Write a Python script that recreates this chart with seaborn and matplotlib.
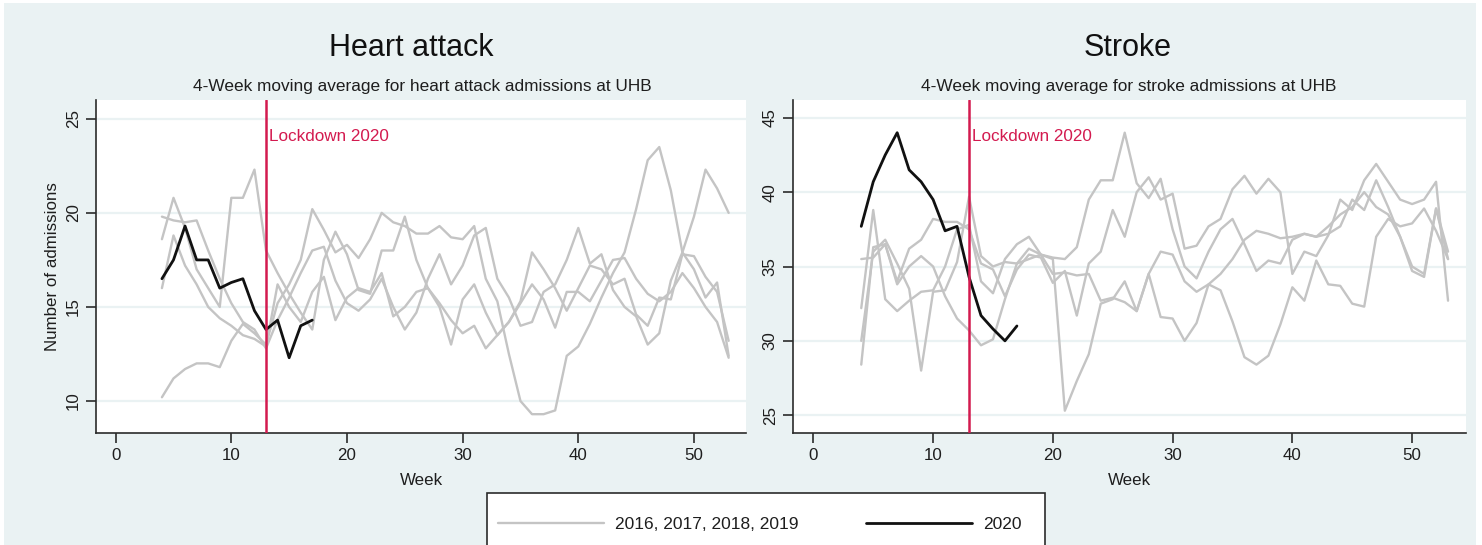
import matplotlib
matplotlib.use("Agg")
import matplotlib.pyplot as plt
import matplotlib.transforms as mtransforms
from matplotlib.lines import Line2D
from matplotlib.patches import Rectangle
import numpy as np
import pandas as pd
import seaborn as sns

# ---------------- data ----------------
weeks_prior = list(range(4, 54))
weeks_2020 = list(range(4, 18))
prior_years = [2016, 2017, 2018, 2019]
lockdown_week = 13

heart_2016 = [10.2, 11.2, 11.7, 12.0, 12.0, 11.8, 13.2, 14.1, 13.6, 13.0,
              15.2, 16.2, 17.5, 20.2, 19.1, 17.9, 18.3, 17.6, 18.6, 20.0,
              19.5, 19.3, 18.9, 18.9, 19.3, 18.7, 18.6, 19.3, 16.5, 15.3,
              12.5, 10.0, 9.3, 9.3, 9.5, 12.4, 12.9, 14.1, 15.5, 16.8,
              17.9, 20.2, 22.8, 23.5, 21.2, 17.9, 17.0, 15.5, 16.3, 12.4]
heart_2017 = [18.6, 20.8, 19.2, 17.0, 16.0, 15.0, 20.8, 20.8, 22.3, 18.0,
              16.8, 15.7, 14.7, 13.8, 17.5, 19.0, 17.8, 15.9, 15.7, 18.0,
              18.0, 19.8, 17.5, 16.0, 15.0, 13.0, 15.4, 16.2, 14.7, 13.5,
              14.2, 15.3, 17.9, 17.0, 16.0, 14.8, 16.0, 17.2, 17.0, 16.2,
              16.5, 14.6, 14.0, 15.5, 15.4, 17.8, 17.7, 16.6, 15.8, 13.2]
heart_2018 = [19.8, 19.6, 19.5, 19.6, 18.0, 16.5, 15.2, 14.2, 13.8, 12.8,
              14.3, 15.5, 16.8, 18.0, 18.2, 16.4, 15.2, 14.8, 15.4, 16.5,
              15.0, 13.8, 14.7, 16.5, 17.8, 16.2, 17.2, 18.8, 19.2, 16.5,
              15.5, 14.0, 14.2, 15.8, 16.2, 17.5, 19.2, 17.3, 17.8, 15.9,
              15.0, 14.5, 13.0, 13.6, 16.4, 17.9, 19.8, 22.3, 21.3, 20.0]
heart_2019 = [16.0, 18.8, 17.2, 16.2, 15.0, 14.4, 14.0, 13.5, 13.3, 12.9,
              16.2, 15.0, 14.2, 15.8, 16.6, 14.3, 15.5, 16.0, 15.8, 16.8,
              14.5, 15.0, 15.8, 16.0, 15.2, 14.3, 13.6, 14.0, 12.8, 13.5,
              14.2, 15.2, 16.2, 15.4, 13.9, 15.8, 15.8, 15.3, 16.4, 17.5,
              17.6, 16.5, 15.7, 15.3, 15.8, 16.8, 16.0, 15.0, 14.2, 12.3]
heart_2020 = [16.5, 17.5, 19.3, 17.5, 17.5, 16.0, 16.3, 16.5, 14.8, 13.8,
              14.3, 12.3, 14.0, 14.3]

stroke_2016 = [32.2, 38.8, 32.8, 32.0, 32.7, 33.3, 33.4, 35.0, 37.5, 37.8,
               34.0, 33.2, 35.5, 36.5, 37.0, 35.8, 35.6, 35.5, 36.3, 39.5,
               40.8, 40.8, 44.0, 40.6, 39.6, 40.9, 37.5, 35.0, 34.2, 36.0,
               37.5, 38.2, 36.5, 34.7, 35.4, 35.2, 36.8, 37.2, 37.0, 37.2,
               37.7, 39.5, 38.8, 40.8, 39.0, 37.0, 35.0, 34.5, 38.9, 35.5]
stroke_2017 = [30.0, 36.0, 36.8, 35.2, 33.5, 28.0, 33.3, 33.4, 35.3, 39.7,
               35.7, 35.0, 35.3, 35.2, 35.5, 35.8, 35.5, 25.3, 27.3, 29.1,
               32.5, 32.8, 34.0, 32.0, 34.5, 31.6, 31.5, 30.0, 31.2, 33.8,
               33.4, 31.3, 28.9, 28.4, 29.0, 31.1, 33.6, 32.7, 35.4, 33.8,
               33.7, 32.5, 32.3, 37.0, 38.2, 37.7, 37.9, 38.9, 37.4, 35.5]
stroke_2018 = [28.4, 36.3, 36.5, 34.0, 36.2, 36.8, 38.2, 38.0, 38.0, 37.5,
               35.2, 34.8, 33.0, 34.8, 35.8, 35.6, 33.9, 34.7, 31.7, 35.2,
               36.0, 38.8, 37.0, 40.0, 41.0, 39.5, 39.9, 36.2, 36.4, 37.7,
               38.2, 40.2, 41.1, 39.9, 40.9, 40.0, 34.5, 36.0, 35.7, 37.1,
               39.5, 38.8, 40.8, 41.9, 40.7, 39.5, 39.2, 39.5, 40.7, 32.7]
stroke_2019 = [35.5, 35.6, 36.5, 33.8, 35.0, 35.7, 35.0, 33.0, 31.5, 30.7,
               29.7, 30.1, 32.8, 35.2, 36.2, 35.8, 34.5, 34.6, 34.4, 34.5,
               32.7, 32.9, 32.6, 32.0, 34.5, 36.0, 35.8, 34.0, 33.3, 33.8,
               34.5, 35.5, 36.8, 37.4, 37.2, 36.9, 37.0, 37.2, 37.0, 37.7,
               38.5, 39.0, 40.0, 39.0, 38.5, 37.0, 34.7, 34.3, 38.9, 36.0]
stroke_2020 = [37.7, 40.7, 42.5, 44.0, 41.5, 40.7, 39.5, 37.4, 37.7, 34.3,
               31.7, 30.8, 30.0, 31.0]

x_ticks = [0, 10, 20, 30, 40, 50]
heart_y_ticks = [10, 15, 20, 25]
stroke_y_ticks = [25, 30, 35, 40, 45]
legend_labels = ["2016, 2017, 2018, 2019", "2020"]


def long_prior(series_list):
    frames = []
    for yr, vals in zip(prior_years, series_list):
        frames.append(pd.DataFrame({"week": weeks_prior, "admissions": vals, "year": yr}))
    return pd.concat(frames, ignore_index=True)


heart_prior = long_prior([heart_2016, heart_2017, heart_2018, heart_2019])
stroke_prior = long_prior([stroke_2016, stroke_2017, stroke_2018, stroke_2019])
heart_now = pd.DataFrame({"week": weeks_2020, "admissions": heart_2020})
stroke_now = pd.DataFrame({"week": weeks_2020, "admissions": stroke_2020})

# ---------------- style ----------------
sns.set_style("white")
plt.rcParams["font.family"] = ["Liberation Sans", "DejaVu Sans"]

BG = "#eaf2f3"
GREY = "#c4c4c4"
RED = "#d31a4f"
DARK = "#2b2b2b"
TXT = "#1e1e1e"
FS = 12.2

W, H = 1482, 545
fig = plt.figure(figsize=(W / 100, H / 100), dpi=100, facecolor="white")
fig.patches.append(Rectangle((4 / W, 0), (1476 - 4) / W, 1 - 3 / H,
                             transform=fig.transFigure, facecolor=BG,
                             edgecolor="none", zorder=-10))

ax_h = fig.add_axes([96 / W, 1 - 433 / H, (746 - 96) / W, (433 - 100) / H])
ax_s = fig.add_axes([793 / W, 1 - 433 / H, (1466 - 793) / W, (433 - 100) / H])

panels = [
    (ax_h, heart_prior, heart_now, (8.3, 26.0), heart_y_ticks, "Number of admissions"),
    (ax_s, stroke_prior, stroke_now, (23.8, 46.2), stroke_y_ticks, None),
]

for ax, prior, now, ylim, yt, ylab in panels:
    ax.set_facecolor("white")
    sns.lineplot(data=prior, x="week", y="admissions", units="year",
                 estimator=None, color=GREY, linewidth=1.7, ax=ax, zorder=2)
    sns.lineplot(data=now, x="week", y="admissions", color="#111111",
                 linewidth=2.0, ax=ax, zorder=3)
    ax.axvline(lockdown_week, color=RED, linewidth=1.8, zorder=4)
    trans = mtransforms.blended_transform_factory(ax.transData, ax.transAxes)
    ax.text(lockdown_week + 0.25, 0.89, "Lockdown 2020", transform=trans,
            color=RED, fontsize=12.3, va="center", ha="left")

    ax.set_xlim(-1.7, 54.5)
    ax.set_ylim(*ylim)
    ax.set_xticks(x_ticks)
    ax.set_yticks(yt)
    ax.yaxis.grid(True, color=BG, linewidth=1.6)
    ax.xaxis.grid(False)
    ax.set_axisbelow(True)
    for side in ["top", "right"]:
        ax.spines[side].set_visible(False)
    for side in ["left", "bottom"]:
        ax.spines[side].set_color(DARK)
        ax.spines[side].set_linewidth(1.2)
    ax.tick_params(axis="both", direction="out", length=7, width=1.2,
                   color=DARK, labelcolor=TXT, labelsize=FS, pad=4,
                   left=True, bottom=True)
    for lab in ax.get_yticklabels():
        lab.set_rotation(90)
        lab.set_va("center")
    ax.set_xlabel("Week", fontsize=FS, color=TXT, labelpad=7)
    if ylab:
        ax.set_ylabel(ylab, fontsize=FS, color=TXT, labelpad=4)
    else:
        ax.set_ylabel("")

# titles
fig.text(411 / W, 1 - 48 / H, "Heart attack", fontsize=22, ha="center", va="center", color="#111111")
fig.text(422 / W, 1 - 86 / H, "4-Week moving average for heart attack admissions at UHB",
         fontsize=12.4, ha="center", va="center", color=TXT)
fig.text(1128 / W, 1 - 48 / H, "Stroke", fontsize=22, ha="center", va="center", color="#111111")
fig.text(1129 / W, 1 - 86 / H, "4-Week moving average for stroke admissions at UHB",
         fontsize=12.4, ha="center", va="center", color=TXT)

# legend box (runs off the bottom edge as in the reference)
fig.patches.append(Rectangle((487 / W, -0.05), (1045 - 487) / W, 1 - 493 / H + 0.05,
                             transform=fig.transFigure, facecolor="white",
                             edgecolor=DARK, linewidth=1.2, zorder=1))
handles = [Line2D([], [], color=GREY, linewidth=1.7),
           Line2D([], [], color="#111111", linewidth=2.0)]
leg = fig.legend(handles, legend_labels, loc="center", ncol=2,
                 bbox_to_anchor=(760 / W, 1 - 524 / H), frameon=False,
                 fontsize=12.5, handlelength=6.1, handletextpad=0.63,
                 columnspacing=3.9)
for t in leg.get_texts():
    t.set_color(TXT)
leg.set_zorder(5)

fig.savefig("out.png", dpi=100, facecolor=fig.get_facecolor())
